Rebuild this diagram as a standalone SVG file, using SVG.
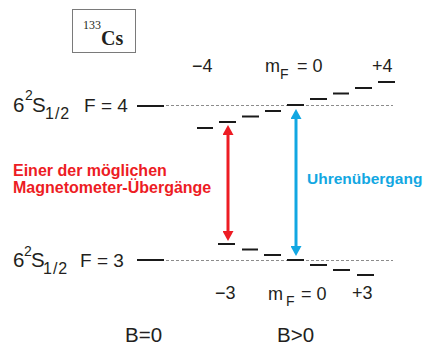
<svg xmlns="http://www.w3.org/2000/svg" width="425" height="345" viewBox="0 0 425 345">
<style>
text{font-family:"Liberation Sans",Arial,sans-serif;fill:#231f20}
.lbl{font-size:20.5px}
.fv{font-size:19px}
.sm{font-size:18px}
.sub{font-size:14px}
.half{font-size:16px}
.big{font-size:20.5px}
.lvl{stroke:#1a1a1a;stroke-width:2}
.dot{stroke:#8c8c8c;stroke-width:1;stroke-dasharray:3 2}
.red{fill:#ed1c24;font-weight:bold;font-size:16px}
.blue{fill:#12a7e2;font-weight:bold;font-size:15.5px}
</style>
<defs>
<marker id="ahR" markerUnits="userSpaceOnUse" markerWidth="10" markerHeight="11" refX="0" refY="5.5" orient="auto-start-reverse" viewBox="0 0 10 11"><path d="M0,0 L10,5.5 L0,11 z" fill="#ed1c24"/></marker>
<marker id="ahB" markerUnits="userSpaceOnUse" markerWidth="10" markerHeight="11" refX="0" refY="5.5" orient="auto-start-reverse" viewBox="0 0 10 11"><path d="M0,0 L10,5.5 L0,11 z" fill="#12a7e2"/></marker>
</defs>
<rect width="425" height="345" fill="#ffffff"/>

<g id="isotope">
<rect x="72.5" y="9.5" width="63" height="43" fill="none" stroke="#7a7a7a" stroke-width="1"/>
<text x="83" y="29" style="font-family:'Liberation Serif','Times New Roman',serif;font-size:12px">133</text>
<text x="101" y="45" style="font-family:'Liberation Serif','Times New Roman',serif;font-size:20px;font-weight:bold">Cs</text>
</g>

<g id="state-F4">
<text class="lbl" x="13" y="112">6<tspan x="25" y="100" class="sub">2</tspan><tspan x="32" y="112">S</tspan><tspan x="45" y="119" class="half" style="letter-spacing:1px">1/2</tspan><tspan x="84" y="112" class="fv">F = 4</tspan></text>
<line class="lvl" x1="137" y1="106" x2="164" y2="106"/>
<line class="dot" x1="166" y1="105.5" x2="393" y2="105.5"/>
</g>

<g id="state-F3">
<text class="lbl" x="13" y="267">6<tspan x="24" y="256" class="sub">2</tspan><tspan x="31" y="267">S</tspan><tspan x="43" y="274" class="half" style="letter-spacing:1px">1/2</tspan><tspan x="80" y="267" class="fv">F = 3</tspan></text>
<line class="lvl" x1="137" y1="260" x2="164" y2="260"/>
<line class="dot" x1="166" y1="260.5" x2="393" y2="260.5"/>
</g>

<g id="levels-F4">
<line class="lvl" x1="197" y1="128" x2="213" y2="128"/>
<line class="lvl" x1="219" y1="122" x2="236" y2="122"/>
<line class="lvl" x1="242" y1="116.5" x2="259" y2="116.5"/>
<line class="lvl" x1="265" y1="111" x2="281" y2="111"/>
<line class="lvl" x1="287" y1="105" x2="304" y2="105"/>
<line class="lvl" x1="310" y1="99" x2="327" y2="99"/>
<line class="lvl" x1="333" y1="93.5" x2="349" y2="93.5"/>
<line class="lvl" x1="355" y1="88" x2="372" y2="88"/>
<line class="lvl" x1="378" y1="82" x2="395" y2="82"/>
</g>

<g id="levels-F3">
<line class="lvl" x1="218" y1="244" x2="235" y2="244"/>
<line class="lvl" x1="242" y1="249.5" x2="258" y2="249.5"/>
<line class="lvl" x1="264" y1="255" x2="281" y2="255"/>
<line class="lvl" x1="287" y1="260" x2="304" y2="260"/>
<line class="lvl" x1="310" y1="265" x2="327" y2="265"/>
<line class="lvl" x1="333" y1="270" x2="350" y2="270"/>
<line class="lvl" x1="357" y1="275" x2="374" y2="275"/>
</g>

<g id="labels-top">
<text class="sm" x="192" y="72">−4</text>
<text class="sm" x="265" y="72">m<tspan x="280" y="79" class="sub">F</tspan><tspan x="292" y="72"> = 0</tspan></text>
<text class="sm" x="372" y="72">+4</text>
</g>

<g id="labels-bottom">
<text class="sm" x="215" y="299">−3</text>
<text class="sm" x="268" y="300">m<tspan x="286" y="306" class="sub">F</tspan><tspan x="296" y="300"> = 0</tspan></text>
<text class="sm" x="352" y="299">+3</text>
</g>

<g id="field-labels">
<text class="big" x="125" y="342">B=0</text>
<text class="big" x="277" y="342">B&gt;0</text>
</g>

<g id="magnetometer-label">
<text class="red" x="13" y="176">Einer der möglichen</text>
<text class="red" x="13" y="193">Magnetometer-Übergänge</text>
</g>

<g id="clock-label">
<text class="blue" x="307" y="184">Uhrenübergang</text>
</g>

<g id="connectors">
<line x1="228" y1="135" x2="228" y2="231" stroke="#ed1c24" stroke-width="3" marker-start="url(#ahR)" marker-end="url(#ahR)"/>
<line x1="296" y1="119" x2="296" y2="246" stroke="#12a7e2" stroke-width="3" marker-start="url(#ahB)" marker-end="url(#ahB)"/>
</g>
</svg>
